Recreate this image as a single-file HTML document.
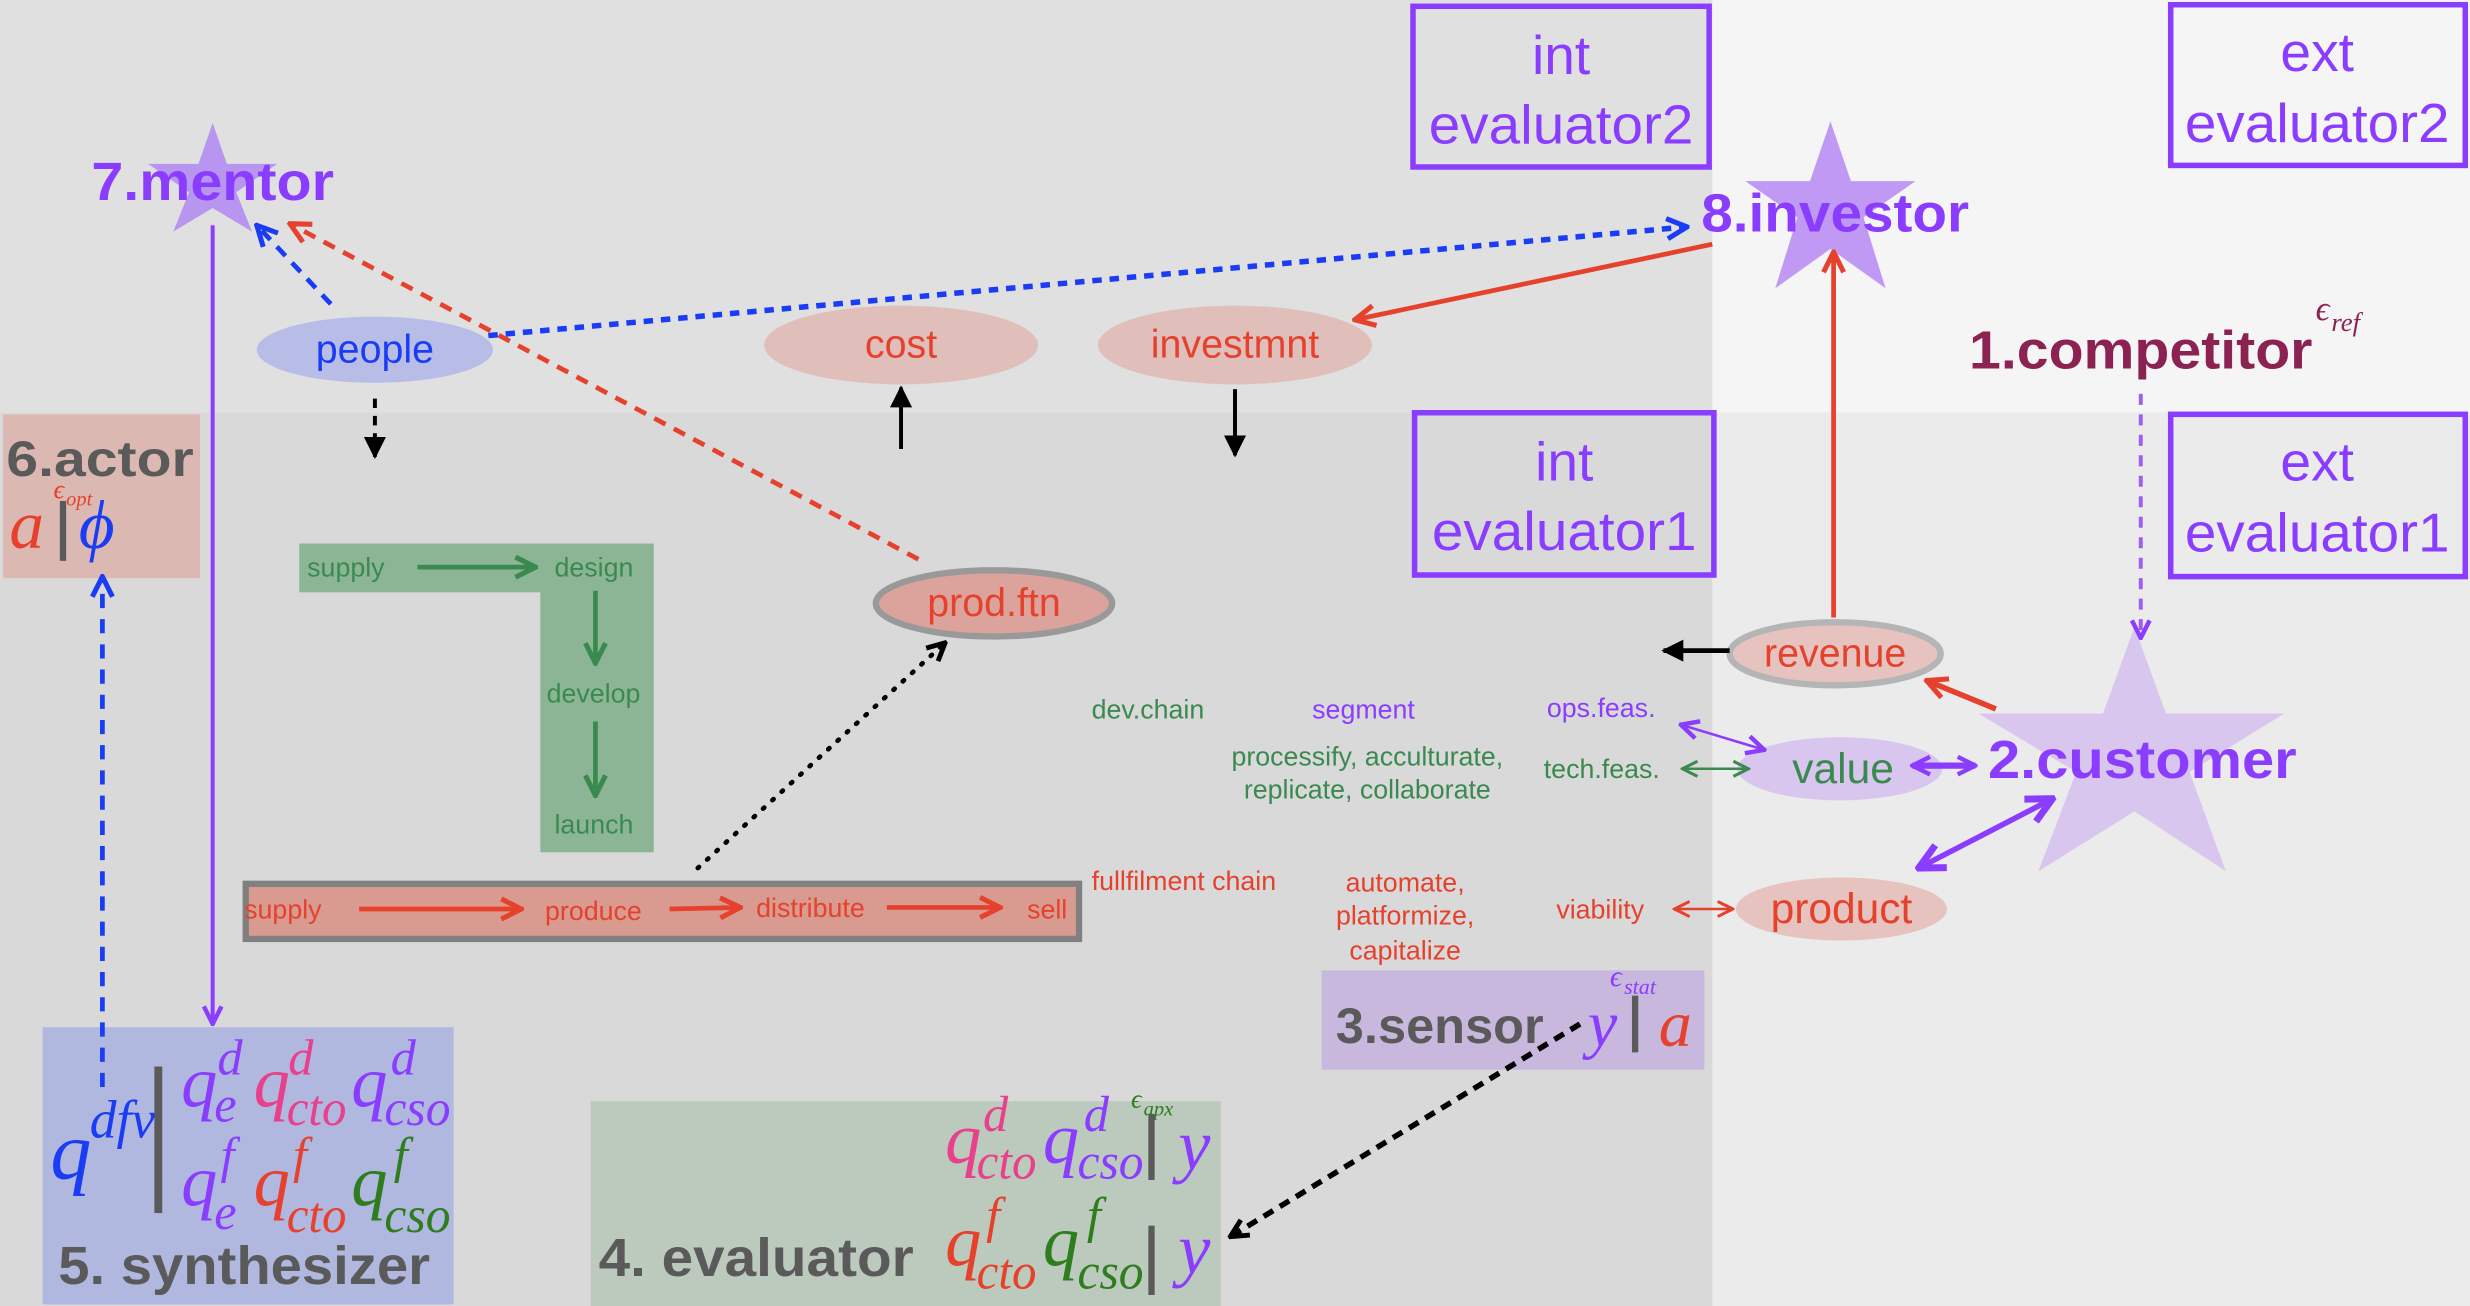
<!DOCTYPE html>
<html><head><meta charset="utf-8"><style>html,body{margin:0;padding:0;background:#d9d9d9}svg{display:block}</style></head>
<body>
<svg width="2470" height="1306" viewBox="0 0 1568 829" preserveAspectRatio="none" xmlns="http://www.w3.org/2000/svg" font-family="Liberation Sans, sans-serif">
<defs>
<marker id="mp" viewBox="0 0 10 10" refX="9" refY="5" markerWidth="14" markerHeight="14" markerUnits="userSpaceOnUse" orient="auto-start-reverse"><path d="M1,1 L9,5 L1,9" fill="none" stroke="#8b3dff" stroke-width="2"/></marker>
<marker id="mpb" viewBox="0 0 10 10" refX="9" refY="5" markerWidth="20" markerHeight="20" markerUnits="userSpaceOnUse" orient="auto-start-reverse"><path d="M1,1 L9,5 L1,9" fill="none" stroke="#8b3dff" stroke-width="2.2"/></marker>
<marker id="mb" viewBox="0 0 10 10" refX="9" refY="5" markerWidth="16" markerHeight="16" markerUnits="userSpaceOnUse" orient="auto"><path d="M1,1 L9,5 L1,9" fill="none" stroke="#1a3cf5" stroke-width="2"/></marker>
<marker id="mr" viewBox="0 0 10 10" refX="9" refY="5" markerWidth="16" markerHeight="16" markerUnits="userSpaceOnUse" orient="auto-start-reverse"><path d="M1,1 L9,5 L1,9" fill="none" stroke="#e5412d" stroke-width="2"/></marker>
<marker id="mr2" viewBox="0 0 10 10" refX="9" refY="5" markerWidth="12" markerHeight="12" markerUnits="userSpaceOnUse" orient="auto-start-reverse"><path d="M1,1 L9,5 L1,9" fill="none" stroke="#e5412d" stroke-width="1.6"/></marker>
<marker id="mg" viewBox="0 0 10 10" refX="9" refY="5" markerWidth="16" markerHeight="16" markerUnits="userSpaceOnUse" orient="auto-start-reverse"><path d="M1,1 L9,5 L1,9" fill="none" stroke="#3a8a50" stroke-width="2"/></marker>
<marker id="mg2" viewBox="0 0 10 10" refX="9" refY="5" markerWidth="12" markerHeight="12" markerUnits="userSpaceOnUse" orient="auto-start-reverse"><path d="M1,1 L9,5 L1,9" fill="none" stroke="#3a8a50" stroke-width="1.6"/></marker>
<marker id="mk" viewBox="0 0 10 10" refX="9" refY="5" markerWidth="14" markerHeight="14" markerUnits="userSpaceOnUse" orient="auto"><path d="M0,0 L10,5 L0,10 Z" fill="#000"/></marker>
<marker id="mko" viewBox="0 0 10 10" refX="9" refY="5" markerWidth="14" markerHeight="14" markerUnits="userSpaceOnUse" orient="auto"><path d="M1,1 L9,5 L1,9" fill="none" stroke="#000" stroke-width="2.2"/></marker>
</defs>
<rect x="0" y="0" width="1087" height="262" fill="#e0e0e0"/>
<rect x="1087" y="0" width="481" height="262" fill="#f5f5f5"/>
<rect x="0" y="262" width="1087" height="567" fill="#d9d9d9"/>
<rect x="1087" y="262" width="481" height="567" fill="#ebebeb"/>

<polygon fill="#b896ef" points="135,78 144,104 176,104 150,122 160,147 135,132 110,147 120,122 94,104 126,104"/>
<polygon fill="#bf99f3" points="1162,77 1175,115 1216,115 1183,138 1197,183 1162,158 1127,183 1141,138 1108,115 1149,115"/>
<polygon fill="#d9c6ee" points="1355,398 1375,453 1450,453 1390,490 1413,553 1355,515 1294,553 1318,490 1256,453 1335,453"/>

<g fill="none" stroke="#8b3dff" stroke-width="3.5">
<rect x="897" y="4" width="188" height="102"/>
<rect x="1378" y="3" width="187" height="102"/>
<rect x="898" y="262" width="190" height="103"/>
<rect x="1378" y="263" width="187" height="103"/>
</g>
<g fill="#8b3dff" font-size="35" text-anchor="middle">
<text x="991" y="47">int</text><text x="991" y="91" textLength="168" lengthAdjust="spacingAndGlyphs">evaluator2</text>
<text x="1471" y="45">ext</text><text x="1471" y="90" textLength="168" lengthAdjust="spacingAndGlyphs">evaluator2</text>
<text x="993" y="305">int</text><text x="993" y="349" textLength="168" lengthAdjust="spacingAndGlyphs">evaluator1</text>
<text x="1471" y="305">ext</text><text x="1471" y="350" textLength="168" lengthAdjust="spacingAndGlyphs">evaluator1</text>
</g>

<rect x="2" y="263" width="125" height="104" fill="#dbb8b2"/>
<rect x="190" y="345" width="155" height="31" fill="#8cb596"/>
<rect x="343" y="345" width="72" height="196" fill="#8cb596"/>
<rect x="156" y="561" width="529" height="35" fill="#d99a90" stroke="#808080" stroke-width="4"/>
<rect x="839" y="616" width="243" height="63" fill="#c8b8de"/>
<rect x="375" y="699" width="400" height="130" fill="#bccabd"/>
<rect x="27" y="652" width="261" height="176" fill="#b1b8e0"/>

<ellipse cx="238" cy="222" rx="75" ry="21" fill="#b8bde8"/>
<ellipse cx="572" cy="219" rx="87" ry="25" fill="#e0bfbb"/>
<ellipse cx="784" cy="219" rx="87" ry="25" fill="#e0bfbb"/>
<ellipse cx="631" cy="383" rx="75" ry="21" fill="#dca39d" stroke="#999" stroke-width="4"/>
<ellipse cx="1165" cy="415" rx="67" ry="20" fill="#e6c3bf" stroke="#b5b5b5" stroke-width="4"/>
<ellipse cx="1168" cy="488" rx="65" ry="20" fill="#d8c6ee"/>
<ellipse cx="1169" cy="577" rx="67" ry="20" fill="#e6c3bf"/>

<line x1="135" y1="143" x2="135" y2="650" stroke="#8b3dff" stroke-width="2.5" marker-end="url(#mp)"/>
<line x1="210" y1="193" x2="163" y2="143" stroke="#1a3cf5" stroke-width="3" stroke-dasharray="8,6" marker-end="url(#mb)"/>
<line x1="583" y1="355" x2="184" y2="142" stroke="#e5412d" stroke-width="3" stroke-dasharray="8,6" marker-end="url(#mr)"/>
<line x1="310" y1="213" x2="1071" y2="144" stroke="#1a3cf5" stroke-width="3.5" stroke-dasharray="6,5" marker-end="url(#mb)"/>
<line x1="1087" y1="155" x2="860" y2="203" stroke="#e5412d" stroke-width="3" marker-end="url(#mr)"/>
<line x1="238" y1="253" x2="238" y2="290" stroke="#000" stroke-width="2.5" stroke-dasharray="6,5" marker-end="url(#mk)"/>
<line x1="572" y1="285" x2="572" y2="246" stroke="#000" stroke-width="2.5" marker-end="url(#mk)"/>
<line x1="784" y1="247" x2="784" y2="289" stroke="#000" stroke-width="2.5" marker-end="url(#mk)"/>
<line x1="1164" y1="392" x2="1164" y2="160" stroke="#e5412d" stroke-width="3" marker-end="url(#mr)"/>
<line x1="1359" y1="250" x2="1359" y2="405" stroke="#a05cf5" stroke-width="2.5" stroke-dasharray="7,6" marker-end="url(#mp)"/>
<line x1="1098" y1="413" x2="1056" y2="413" stroke="#000" stroke-width="3" marker-end="url(#mk)"/>
<line x1="1267" y1="450" x2="1223" y2="432" stroke="#e5412d" stroke-width="3.5" marker-end="url(#mr)"/>
<line x1="1214" y1="486" x2="1254" y2="486" stroke="#8b3dff" stroke-width="4" marker-start="url(#mp)" marker-end="url(#mp)"/>
<line x1="1067" y1="460" x2="1120" y2="476" stroke="#8b3dff" stroke-width="1.6" marker-start="url(#mp)" marker-end="url(#mp)"/>
<line x1="1068" y1="488" x2="1110" y2="488" stroke="#3a8a50" stroke-width="1.6" marker-start="url(#mg2)" marker-end="url(#mg2)"/>
<line x1="1218" y1="551" x2="1303" y2="507" stroke="#8b3dff" stroke-width="3.5" marker-start="url(#mpb)" marker-end="url(#mpb)"/>
<line x1="1063" y1="577" x2="1100" y2="577" stroke="#e5412d" stroke-width="1.6" marker-start="url(#mr2)" marker-end="url(#mr2)"/>
<line x1="1003" y1="650" x2="781" y2="785" stroke="#000" stroke-width="3.5" stroke-dasharray="7,5" marker-end="url(#mko)"/>
<line x1="443" y1="551" x2="600" y2="408" stroke="#000" stroke-width="3" stroke-dasharray="1,7" stroke-linecap="round" marker-end="url(#mko)"/>
<line x1="65" y1="690" x2="65" y2="366" stroke="#1a3cf5" stroke-width="3" stroke-dasharray="9,7" marker-end="url(#mb)"/>
<line x1="265" y1="360" x2="340" y2="360" stroke="#3a8a50" stroke-width="3" marker-end="url(#mg)"/>
<line x1="378" y1="375" x2="378" y2="421" stroke="#3a8a50" stroke-width="3" marker-end="url(#mg)"/>
<line x1="378" y1="458" x2="378" y2="505" stroke="#3a8a50" stroke-width="3" marker-end="url(#mg)"/>
<line x1="228" y1="577" x2="331" y2="577" stroke="#e5412d" stroke-width="3" marker-end="url(#mr)"/>
<line x1="425" y1="577" x2="470" y2="576" stroke="#e5412d" stroke-width="3" marker-end="url(#mr)"/>
<line x1="563" y1="576" x2="635" y2="576" stroke="#e5412d" stroke-width="3" marker-end="url(#mr)"/>

<g font-weight="bold" font-size="34">
<text x="58" y="127" fill="#8b3dff" textLength="154" lengthAdjust="spacingAndGlyphs">7.mentor</text>
<text x="1080" y="147" fill="#8b3dff" textLength="170" lengthAdjust="spacingAndGlyphs">8.investor</text>
<text x="1250" y="234" fill="#8b2252" textLength="218" lengthAdjust="spacingAndGlyphs">1.competitor</text>
<text x="1262" y="494" fill="#8b3dff" textLength="196" lengthAdjust="spacingAndGlyphs">2.customer</text>
<text x="4" y="302" fill="#5a5a5a" font-size="32" textLength="119" lengthAdjust="spacingAndGlyphs">6.actor</text>
<text x="848" y="662" fill="#5a5a5a" font-size="32" textLength="132" lengthAdjust="spacingAndGlyphs">3.sensor</text>
<text x="380" y="810" fill="#5a5a5a" textLength="200" lengthAdjust="spacingAndGlyphs">4. evaluator</text>
<text x="37" y="815" fill="#5a5a5a" textLength="236" lengthAdjust="spacingAndGlyphs">5. synthesizer</text>
</g>
<g font-size="25" text-anchor="middle" fill="#e5412d">
<text x="238" y="230" fill="#1a3cf5">people</text>
<text x="572" y="227">cost</text>
<text x="784" y="227">investmnt</text>
<text x="631" y="391">prod.ftn</text>
<text x="1165" y="423">revenue</text>
<text x="1170" y="497" fill="#3a8a50" font-size="27">value</text>
<text x="1169" y="586" font-size="27">product</text>
</g>
<g font-size="17">
<text x="195" y="366" fill="#3a8a50">supply</text>
<text x="352" y="366" fill="#3a8a50">design</text>
<text x="347" y="446" fill="#3a8a50">develop</text>
<text x="352" y="529" fill="#3a8a50">launch</text>
<text x="155" y="583" fill="#e5412d">supply</text>
<text x="346" y="584" fill="#e5412d">produce</text>
<text x="480" y="582" fill="#e5412d">distribute</text>
<text x="652" y="583" fill="#e5412d">sell</text>
<text x="693" y="456" fill="#3a8a50">dev.chain</text>
<text x="833" y="456" fill="#8b3dff">segment</text>
<text x="982" y="455" fill="#8b3dff">ops.feas.</text>
<text x="868" y="486" fill="#3a8a50" text-anchor="middle">processify, acculturate,</text>
<text x="868" y="507" fill="#3a8a50" text-anchor="middle">replicate, collaborate</text>
<text x="980" y="494" fill="#3a8a50">tech.feas.</text>
<text x="693" y="565" fill="#e5412d">fullfilment chain</text>
<text x="892" y="566" fill="#e5412d" text-anchor="middle">automate,</text>
<text x="892" y="587" fill="#e5412d" text-anchor="middle">platformize,</text>
<text x="892" y="609" fill="#e5412d" text-anchor="middle">capitalize</text>
<text x="988" y="583" fill="#e5412d">viability</text>
</g>

<g font-family="Liberation Serif, serif" font-style="italic">
<text x="1470" y="203" font-size="22" fill="#8b2252">ϵ</text><text x="1480" y="210" font-size="17" fill="#8b2252">ref</text>
<text x="34" y="316" font-size="17" fill="#e5412d">ϵ</text><text x="42" y="321" font-size="13" fill="#e5412d">opt</text>
<text x="6" y="348" font-size="44" fill="#e5412d">a</text>
<rect x="38" y="318" width="4" height="38" fill="#5a5a5a"/>
<text x="50" y="348" font-size="44" fill="#1a3cf5">ϕ</text>
<text x="1022" y="626" font-size="19" fill="#8b3dff">ϵ</text><text x="1031" y="631" font-size="14" fill="#8b3dff">stat</text>
<text x="1008" y="664" font-size="42" fill="#8b3dff">y</text>
<rect x="1036" y="632" width="4" height="36" fill="#5a5a5a"/>
<text x="1053" y="664" font-size="42" fill="#e5412d">a</text>
<!-- synthesizer -->
<text x="32" y="748" font-size="52" fill="#1a3cf5">q</text>
<text x="57" y="722" font-size="34" fill="#1a3cf5">dfv</text>
<rect x="98" y="677" width="5" height="93" fill="#5a5a5a"/>
<g font-size="46">
<text x="115" y="702" fill="#8b3dff">q</text>
<text x="161" y="702" fill="#e8408a">q</text>
<text x="223" y="702" fill="#8b3dff">q</text>
<text x="115" y="765" fill="#8b3dff">q</text>
<text x="161" y="765" fill="#e5412d">q</text>
<text x="223" y="765" fill="#2e7d1e">q</text>
</g>
<g font-size="32">
<text x="138" y="682" fill="#8b3dff">d</text><text x="136" y="712" fill="#8b3dff">e</text>
<text x="183" y="682" fill="#e8408a">d</text><text x="182" y="714" fill="#e8408a" textLength="38" lengthAdjust="spacingAndGlyphs">cto</text>
<text x="248" y="682" fill="#8b3dff">d</text><text x="244" y="714" fill="#8b3dff" textLength="42" lengthAdjust="spacingAndGlyphs">cso</text>
<text x="140" y="744" fill="#8b3dff">f</text><text x="136" y="780" fill="#8b3dff">e</text>
<text x="186" y="744" fill="#e5412d">f</text><text x="182" y="782" fill="#e5412d" textLength="38" lengthAdjust="spacingAndGlyphs">cto</text>
<text x="250" y="744" fill="#2e7d1e">f</text><text x="244" y="782" fill="#2e7d1e" textLength="42" lengthAdjust="spacingAndGlyphs">cso</text>
</g>
<!-- evaluator -->
<text x="718" y="703" font-size="17" fill="#2e7d1e">ϵ</text><text x="726" y="708" font-size="13" fill="#2e7d1e">apx</text>
<g font-size="46">
<text x="600" y="738" fill="#e8408a">q</text>
<text x="662" y="738" fill="#8b3dff">q</text>
<text x="600" y="803" fill="#e5412d">q</text>
<text x="662" y="803" fill="#2e7d1e">q</text>
<text x="748" y="742" fill="#8b3dff">y</text>
<text x="748" y="808" fill="#8b3dff">y</text>
</g>
<g font-size="32">
<text x="624" y="718" fill="#e8408a">d</text><text x="620" y="748" fill="#e8408a" textLength="38" lengthAdjust="spacingAndGlyphs">cto</text>
<text x="688" y="718" fill="#8b3dff">d</text><text x="684" y="748" fill="#8b3dff" textLength="42" lengthAdjust="spacingAndGlyphs">cso</text>
<text x="626" y="782" fill="#e5412d">f</text><text x="620" y="818" fill="#e5412d" textLength="38" lengthAdjust="spacingAndGlyphs">cto</text>
<text x="690" y="782" fill="#2e7d1e">f</text><text x="684" y="818" fill="#2e7d1e" textLength="42" lengthAdjust="spacingAndGlyphs">cso</text>
</g>
<rect x="729" y="707" width="4" height="42" fill="#5a5a5a"/>
<rect x="729" y="778" width="4" height="44" fill="#5a5a5a"/>
</g>
</svg>
</body></html>
